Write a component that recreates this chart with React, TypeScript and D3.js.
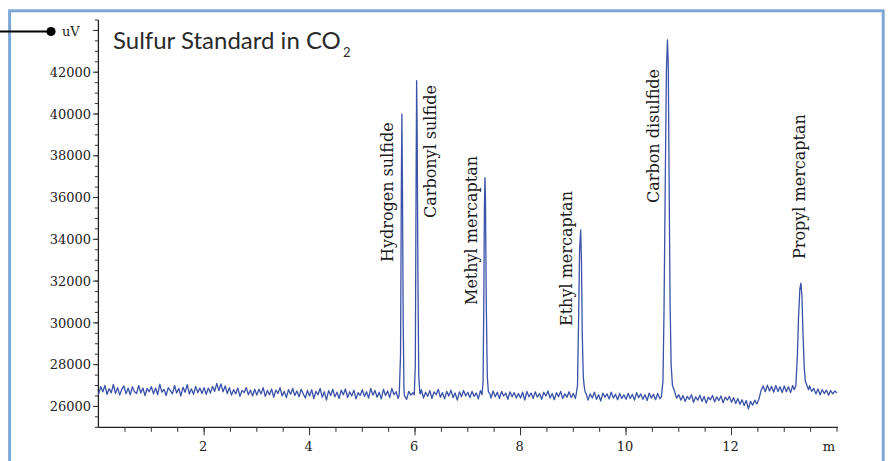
import React from 'react';
import * as d3 from 'd3';

const W = 891;
const H = 461;

// Detector signal, sampled every 0.04 min from 0 to 14 min (uV)
const sampleStepMin = 0.04;
const baselineSignal = [
  26600, 26950, 26700, 27000, 26580, 26850, 26650, 27050, 26620, 26900, 26540, 26820, 26980, 26600, 26880, 26560, 26940, 26700, 26620, 27000, 26640, 26880, 26520, 26860, 26700,
  26950, 26600, 26880, 26560, 27060, 26680, 26820, 26520, 26900, 26760, 26600, 27000, 26640, 26860, 26500, 26920, 26680, 27040, 26600, 26840, 26580, 26960, 26660, 26880, 26620,
  26900, 26580, 26880, 26640, 26960, 26720, 27100, 26760, 27080, 26700, 26980, 26620, 26900, 26540, 26800, 26600, 26880, 26480, 26760, 26660, 26900, 26560, 26780, 26500, 26820,
  26540, 26820, 26600, 26900, 26480, 26760, 26560, 26840, 26440, 26780, 26620, 26900, 26500, 26720, 26420, 26800, 26580, 26860, 26520, 26740, 26460, 26820, 26600, 26400, 26760,
  26500, 26800, 26380, 26720, 26560, 26860, 26440, 26700, 26300, 26760, 26520, 26820, 26460, 26680, 26380, 26780, 26560, 26840, 26420, 26700, 26500, 26780, 26360, 26660, 26520,
  26800, 26480, 26700, 26400, 26860, 26540, 26760, 26440, 26680, 26360, 26820, 26520, 26740, 26420, 26860, 26560, 26700, 26380, 26760, 26480, 26640, 26340, 26720, 26540, 26660,
  26460, 26740, 26520, 26800, 26400, 26680, 26480, 26760, 26380, 26700, 26560, 26820, 26440, 26660, 26360, 26720, 26500, 26780, 26420, 26640, 26300, 26700, 26460, 26760, 26500,
  26680, 26420, 26720, 26480, 26640, 26360, 26760, 26500, 26700, 26440, 26620, 26400, 26740, 26460, 26680, 26380, 26720, 26500, 26640, 26340, 26700, 26460, 26660, 26400, 26620,
  26400, 26680, 26300, 26720, 26460, 26640, 26380, 26700, 26440, 26620, 26340, 26680, 26500, 26740, 26400, 26620, 26320, 26660, 26460, 26720, 26380, 26600, 26440, 26700, 26420,
  26620, 26380, 26660, 26420, 26580, 26360, 26640, 26300, 26600, 26400, 26680, 26340, 26560, 26260, 26640, 26440, 26600, 26360, 26680, 26400, 26580, 26320, 26620, 26380, 26560,
  26340, 26620, 26380, 26580, 26300, 26660, 26420, 26600, 26340, 26560, 26280, 26640, 26400, 26580, 26320, 26620, 26380, 26560, 26300, 26600, 26420, 26540, 26360, 26620, 26400,
  26560, 26300, 26520, 26240, 26480, 26340, 26560, 26200, 26460, 26300, 26540, 26240, 26480, 26160, 26440, 26320, 26520, 26220, 26460, 26280, 26500, 26180, 26440, 26300, 26480,
  26200, 26420, 26140, 26380, 26100, 26320, 26040, 26280, 25880, 26240, 26060, 26300, 26120, 26360, 26760, 26980, 26700, 27020, 26740, 26960, 26680, 27000, 26720, 26940, 26660,
  26980, 26700, 26940, 26660, 27000, 26720, 26920, 26680, 26960, 26740, 26900, 26660, 26980, 26720, 26860, 26600, 26840, 26560, 26800, 26620, 26780, 26540, 26760, 26600, 26740,
  26640,
];

// Peak names and their traced points [time (min), signal (uV)]
const peakNames = [
  'Hydrogen sulfide',
  'Carbonyl sulfide',
  'Methyl mercaptan',
  'Ethyl mercaptan',
  'Carbon disulfide',
  'Propyl mercaptan',
];
const peakTraces: [number, number][][] = [
  [[5.70, 26560], [5.725, 28500], [5.74, 36500], [5.75, 40000], [5.76, 37000], [5.775, 30000], [5.79, 26800], [5.80, 26500]],
  [[5.985, 26550], [6.005, 28000], [6.02, 37000], [6.03, 41600], [6.04, 39000], [6.055, 32000], [6.07, 27500], [6.09, 26650], [6.10, 26600]],
  [[7.27, 26560], [7.29, 27200], [7.305, 31500], [7.315, 35500], [7.325, 36950], [7.335, 36000], [7.35, 31000], [7.37, 27400], [7.39, 26700], [7.42, 26600]],
  [[9.05, 26500], [9.08, 27000], [9.10, 30000], [9.12, 33500], [9.14, 34450], [9.155, 33000], [9.17, 29500], [9.19, 27400], [9.21, 26900], [9.23, 26650]],
  [[10.67, 26450], [10.70, 27200], [10.72, 30500], [10.745, 37000], [10.765, 42000], [10.785, 43550], [10.80, 42500], [10.815, 37500], [10.835, 31000], [10.855, 28000], [10.88, 27000], [10.91, 26800], [10.94, 26550]],
  [[13.19, 26800], [13.22, 27000], [13.25, 28500], [13.27, 30200], [13.295, 31600], [13.315, 31900], [13.335, 31300], [13.355, 29500], [13.38, 27800], [13.40, 27200], [13.43, 27000], [13.46, 26800]],
];

const yTickLabels = [26000, 28000, 30000, 32000, 34000, 36000, 38000, 40000, 42000];
const xTickLabels = [2, 4, 6, 8, 10, 12];
const yUnit = 'uV';
const xUnit = 'm';
const titleMain = 'Sulfur Standard in CO';
const titleSub = '2';

// label layout (pixel offsets from the apex x, and bottom y of rotated text)
const labelLayout = [
  { dx: -8.5, y: 262 },
  { dx: 19.5, y: 218 },
  { dx: -8.3, y: 305 },
  { dx: -8.4, y: 326 },
  { dx: -8.4, y: 203 },
  { dx: 4.5, y: 259 },
];

const plot = { left: 98.6, right: 837, top: 20, bottom: 427.3 };

export default function App() {
  const x = d3.scaleLinear().domain([0, 14]).range([plot.left, plot.right]);
  const y = d3.scaleLinear().domain([25000, 44500]).range([plot.bottom, plot.top]);

  const samples: [number, number][] = baselineSignal.map((v, i) => [i * sampleStepMin, v]);
  const ranges = peakTraces.map((p) => [p[0][0], p[p.length - 1][0]]);
  const kept = samples.filter(([t]) => !ranges.some(([a, b]) => t >= a - 1e-6 && t <= b + 1e-6));
  const all = kept.concat(...peakTraces).sort((a, b) => a[0] - b[0]);

  const line = d3
    .line<[number, number]>()
    .x((d) => x(d[0]))
    .y((d) => y(d[1]));

  const yMinor = d3.range(25000, 44501, 500);
  const yMajor = d3.range(26000, 44001, 2000);
  const xMinor = d3.range(0.5, 14.01, 0.5);

  const serif = '"DejaVu Serif", serif';
  const ax = plot.left - 0.2;

  return (
    <svg
      width={W}
      height={H}
      style={{ position: 'absolute', left: 0, top: 0, background: '#fff' }}
    >
      <rect x={0} y={0} width={W} height={H} fill="#fff" />
      <rect x={9.6} y={10.8} width={873.6} height={480} fill="none" stroke="#7fa7d5" strokeWidth={3} />

      {/* connector marker */}
      <line x1={0} y1={31.5} x2={51} y2={31.5} stroke="#000" strokeWidth={2} />
      <circle cx={51} cy={31.5} r={4.6} fill="#000" />

      {/* title */}
      <text x={113} y={49} fontFamily="Lato, sans-serif" fontSize={24} fill="#2a2a2a">
        {titleMain}
      </text>
      <text x={343} y={56.5} fontFamily="Lato, sans-serif" fontSize={13} fill="#2a2a2a">
        {titleSub}
      </text>

      {/* y axis */}
      <line x1={ax} y1={plot.top} x2={ax} y2={plot.bottom} stroke="#222" strokeWidth={1.3} />
      {yMinor.map((v) => (
        <line key={'ym' + v} x1={ax - 3.5} x2={ax} y1={y(v)} y2={y(v)} stroke="#333" strokeWidth={1} />
      ))}
      {yMajor.map((v) => (
        <line key={'yM' + v} x1={ax - 5.5} x2={ax} y1={y(v)} y2={y(v)} stroke="#333" strokeWidth={1} />
      ))}
      {yTickLabels.map((v) => (
        <text
          key={'yl' + v}
          x={91}
          y={y(v)}
          dy="0.36em"
          textAnchor="end"
          fontFamily={serif}
          fontSize={13}
          fill="#222"
        >
          {v}
        </text>
      ))}
      <text x={62} y={36} fontFamily={serif} fontSize={13} fill="#222">
        {yUnit}
      </text>

      {/* x axis */}
      <line x1={ax} y1={plot.bottom} x2={838} y2={plot.bottom} stroke="#222" strokeWidth={1.3} />
      {xMinor.map((v) => (
        <line key={'xm' + v} x1={x(v)} x2={x(v)} y1={plot.bottom} y2={plot.bottom + 4.5} stroke="#333" strokeWidth={1} />
      ))}
      {xTickLabels.map((v) => (
        <g key={'xl' + v}>
          <line x1={x(v)} x2={x(v)} y1={plot.bottom} y2={plot.bottom + 8} stroke="#333" strokeWidth={1} />
          <text x={x(v) - 1} y={451} textAnchor="middle" fontFamily={serif} fontSize={13} fill="#222">
            {v}
          </text>
        </g>
      ))}
      <text x={835} y={451} textAnchor="end" fontFamily={serif} fontSize={13} fill="#222">
        {xUnit}
      </text>

      {/* trace */}
      <path d={line(all) || ''} fill="none" stroke="#3a52a8" strokeWidth={1.3} strokeLinejoin="round" />

      {/* peak labels */}
      {peakNames.map((name, i) => {
        const trace = peakTraces[i];
        const apex = trace.reduce((m, p) => (p[1] > m[1] ? p : m), trace[0]);
        const lx = x(apex[0]) + labelLayout[i].dx;
        const ly = labelLayout[i].y;
        return (
          <text
            key={name}
            transform={`translate(${lx},${ly}) rotate(-90)`}
            fontFamily={serif}
            fontSize={16}
            fill="#1a1a1a"
          >
            {name}
          </text>
        );
      })}
    </svg>
  );
}
